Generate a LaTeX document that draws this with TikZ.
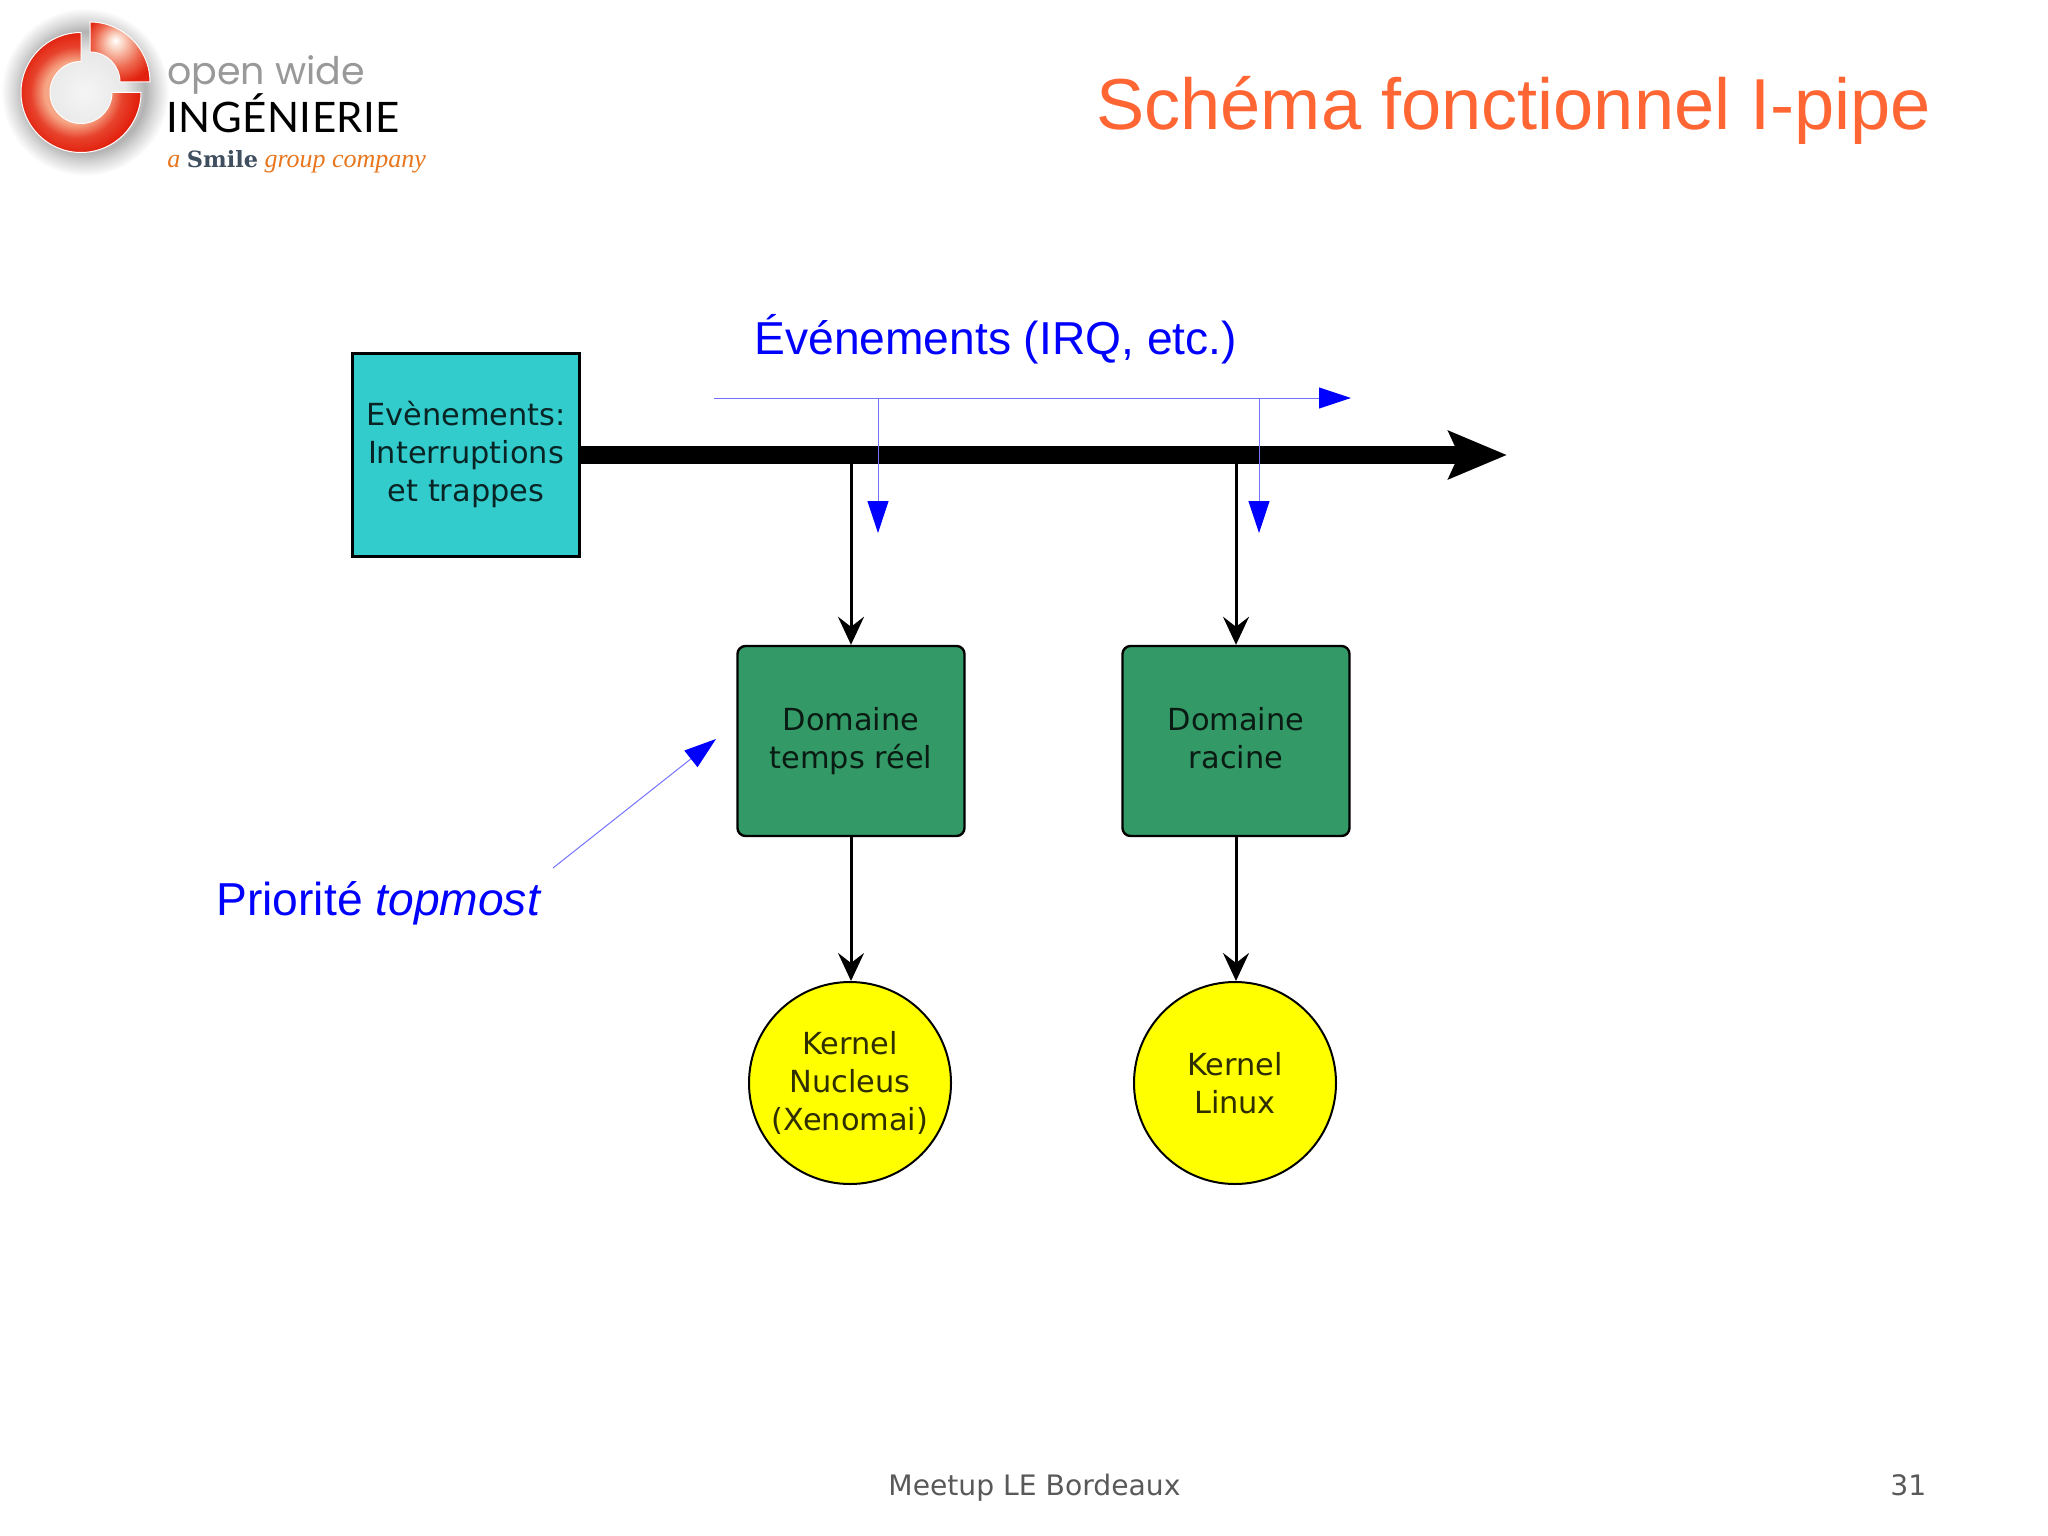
\documentclass[tikz,border=0pt]{standalone}
\usepackage{fontspec}
\setmainfont{Liberation Sans}
\newfontfamily\boxfont{DejaVu Sans}
\newfontfamily\wordfont{Poppins}
\newfontfamily\brandfont[LetterSpace=1.2]{Lato}
\newfontfamily\smilefont{DejaVu Serif}
\newfontfamily\groupfont{Liberation Serif}
\usetikzlibrary{arrows.meta}
\definecolor{titleorange}{HTML}{FF6633}
\definecolor{boxcyan}{HTML}{33CCCC}
\definecolor{boxgreen}{HTML}{339966}
\definecolor{kernyellow}{HTML}{FFFF00}
\definecolor{logoorange}{HTML}{E8761E}
\definecolor{logoslate}{HTML}{3F4F5F}
\definecolor{logored}{HTML}{E2220F}
\definecolor{logopeach}{HTML}{F6A585}
\pgfdeclareradialshading{logoglow}{\pgfpointorigin}{color(0bp)=(black!4); color(12bp)=(black!9); color(18bp)=(black!30); color(21bp)=(black!16); color(25bp)=(white); color(50bp)=(white)}
\pgfdeclareradialshading{logomain}{\pgfpoint{-3bp}{0bp}}{color(0bp)=(logopeach); color(13bp)=(logopeach); color(19bp)=(logored!75!logopeach); color(25bp)=(logored); color(50bp)=(logored)}
\pgfdeclareradialshading{logoquarter}{\pgfpoint{-4bp}{10bp}}{color(0bp)=(white); color(7bp)=(logopeach!55!white); color(19bp)=(logored!45!logopeach); color(30bp)=(logored); color(50bp)=(logored)}
\tikzset{
  boxtext/.style={font=\boxfont\fontsize{15.2}{19}\selectfont, align=center, text opacity=.82, inner sep=0pt},
  evtbox/.style={boxtext, draw, line width=1.2pt, fill=boxcyan, minimum width=113.5pt, minimum height=101.5pt},
  dombox/.style={boxtext, draw, line width=1.2pt, fill=boxgreen, rounded corners=4pt, minimum width=113.5pt, minimum height=95pt},
  kernel/.style={boxtext, draw, line width=1pt, fill=kernyellow, circle, minimum size=101pt},
  blueline/.style={blue!55, line width=.5pt, -{Triangle[length=16pt,width=10.5pt,blue]}},
  flowline/.style={line width=1.5pt, -{Stealth[length=14pt,width=13pt,inset=5pt]}},
  caption/.style={blue, font=\fontsize{23.1}{28}\selectfont, inner sep=0pt, anchor=base west},
  footer/.style={black!65, font=\boxfont\fontsize{14.1}{17}\selectfont, inner sep=0pt, anchor=base west}
}
\begin{document}
\begin{tikzpicture}[x=.5pt,y=-.5pt]
\useasboundingbox (0,0) rectangle (2048,1535);
% logo
\begin{scope}[shift={(85,92)},y=.5pt]
\shade[shading=logoglow] (0,0) circle (84);
\end{scope}
\begin{scope}[shift={(81,92.5)},y=.5pt]
\shade[shading=logomain, draw=white, line width=.5pt] (0,60) arc (90:360:60) -- (31,0) arc (360:90:31) -- cycle;
\end{scope}
\begin{scope}[shift={(90,82)},y=.5pt]
\shade[shading=logoquarter, draw=white, line width=.5pt] (60,0) arc (0:90:60) -- (0,30) arc (90:0:30) -- cycle;
\end{scope}
\node[text=black!40, font=\wordfont\fontsize{19}{19}\selectfont, inner sep=0pt, anchor=base west] (openwide) at (167,85) {open wide};
\node[text=black, font=\brandfont\fontsize{21}{21}\selectfont, inner sep=0pt, anchor=base west] (brand) at (166,133) {INGÉNIERIE};
\node[text=logoorange, font=\groupfont\fontsize{13}{15}\selectfont\itshape, inner sep=0pt, anchor=base west] (smile) at (167,168) {a {\smilefont\fontsize{11.2}{15}\selectfont\bfseries\upshape\color{logoslate}Smile} group company};
% title and captions
\node[text=titleorange, font=\fontsize{36.1}{43}\selectfont, inner sep=0pt, anchor=base west] (title) at (1096,129.5) {Schéma fonctionnel I-pipe};
\node[caption] (irq) at (754,355) {Événements (IRQ, etc.)};
\node[caption] (prio) at (216,915) {Priorité \textit{topmost}};
\node[footer] (meetup) at (888,1495) {Meetup LE Bordeaux};
\node[footer] (page) at (1890,1495) {31};
% boxes
\node[evtbox] (events) at (466,455) {Evènements:\\Interruptions\\et trappes};
\node[dombox] (domrt) at (851,741) {Domaine\\temps réel};
\node[dombox] (domroot) at (1236,741) {Domaine\\racine\vphantom{p}};
\node[kernel] (nucleus) at (850,1083) {Kernel\\Nucleus\\(Xenomai)};
\node[kernel] (linux) at (1235,1083) {Kernel\\Linux};
% free ends
\coordinate (bustip) at (1507,455);
\coordinate (evstart) at (714,398);
\coordinate (evend) at (1351,398);
\coordinate (droprt) at (878,533);
\coordinate (droproot) at (1259,533);
\coordinate (priofrom) at (553,868);
\coordinate (prioto) at (716,739);
% connectors
\draw[line width=9pt, -{Stealth[length=29pt,width=23.5pt,inset=5pt]}] (events.east) -- (bustip);
\foreach \dom/\kern in {domrt/nucleus, domroot/linux} {
  \draw[flowline] (\dom.north |- events.east) -- (\dom.north);
  \draw[flowline] (\dom.south) -- (\dom.south |- \kern.north);
}
\draw[blueline] (evstart) -- (evend);
\foreach \drop in {droprt, droproot}
  \draw[blueline] (\drop |- evstart) -- (\drop);
\draw[blueline] (priofrom) -- (prioto);
\end{tikzpicture}
\end{document}
